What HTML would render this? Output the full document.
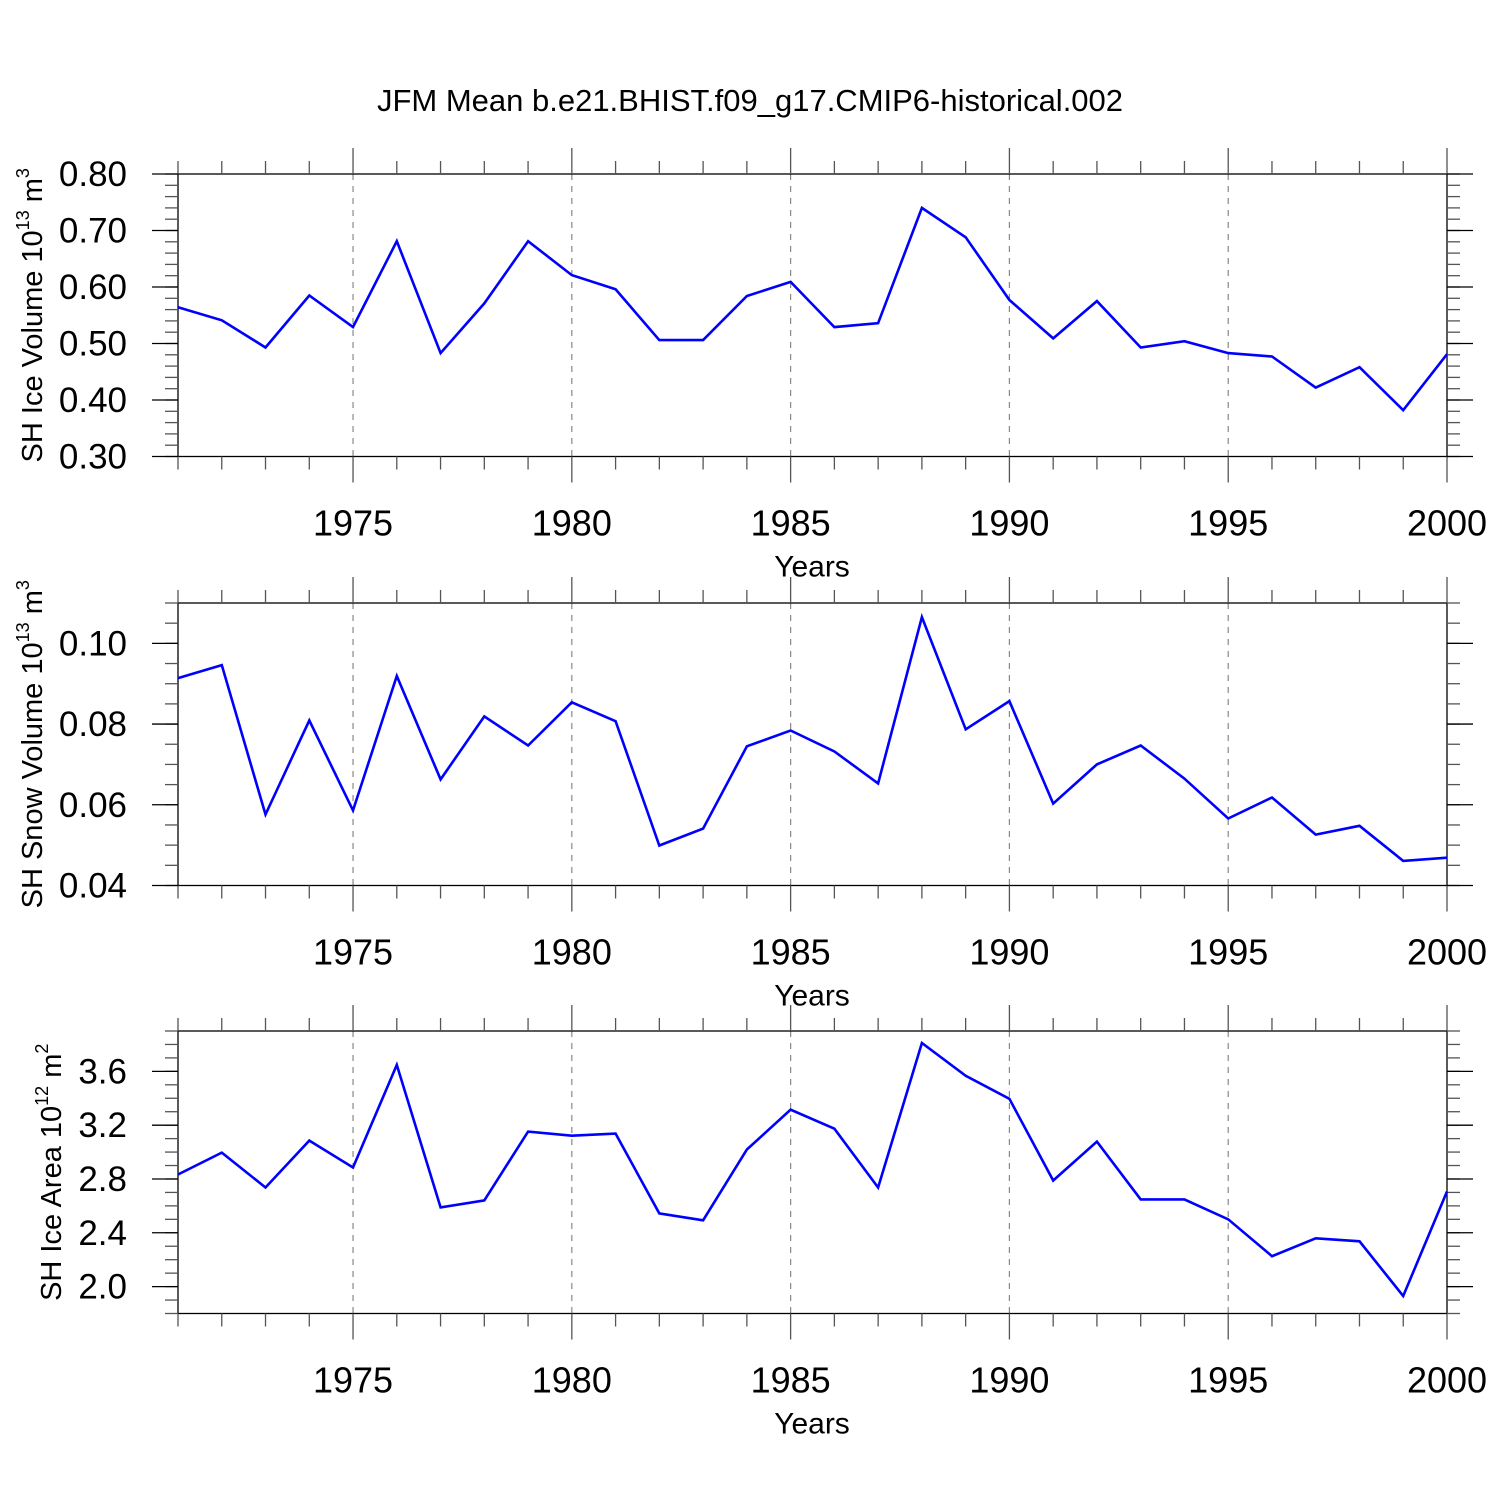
<!DOCTYPE html>
<html><head><meta charset="utf-8"><style>
html,body{margin:0;padding:0;background:#fff;}
svg{display:block;font-family:"Liberation Sans",sans-serif;}
</style></head><body>
<svg id="chart" width="1500" height="1500" viewBox="0 0 1500 1500" xmlns="http://www.w3.org/2000/svg">
<rect width="1500" height="1500" fill="#fff"/>
<text x="750" y="111" font-size="31" text-anchor="middle">JFM Mean b.e21.BHIST.f09_g17.CMIP6-historical.002</text>
</svg>
<script>
const years = [1971,1972,1973,1974,1975,1976,1977,1978,1979,1980,1981,1982,1983,1984,1985,1986,1987,1988,1989,1990,1991,1992,1993,1994,1995,1996,1997,1998,1999,2000];
const iceVolume = [0.564,0.541,0.493,0.585,0.529,0.681,0.483,0.571,0.681,0.621,0.596,0.506,0.506,0.584,0.609,0.529,0.536,0.740,0.688,0.577,0.509,0.575,0.493,0.504,0.483,0.477,0.422,0.458,0.382,0.481];
const snowVolume = [0.0914,0.0946,0.0576,0.0809,0.0586,0.0919,0.0663,0.0819,0.0747,0.0854,0.0807,0.0499,0.0541,0.0745,0.0784,0.0732,0.0653,0.1065,0.0787,0.0857,0.0603,0.0700,0.0747,0.0665,0.0566,0.0618,0.0526,0.0548,0.0461,0.0469];
const iceArea = [2.833,2.996,2.737,3.085,2.885,3.648,2.589,2.641,3.152,3.122,3.137,2.544,2.493,3.019,3.315,3.174,2.737,3.811,3.567,3.396,2.789,3.078,2.648,2.648,2.500,2.226,2.359,2.337,1.930,2.707];
const xTickLabels = ['1975','1980','1985','1990','1995','2000'];
const iceVolTicks = ['0.80','0.70','0.60','0.50','0.40','0.30'];
const snowVolTicks = ['0.10','0.08','0.06','0.04'];
const iceAreaTicks = ['3.6','3.2','2.8','2.4','2.0'];

const NS='http://www.w3.org/2000/svg';
const svg=document.getElementById('chart');
function mk(tag,attrs,parent){const e=document.createElementNS(NS,tag);for(const k in attrs)e.setAttribute(k,attrs[k]);(parent||svg).appendChild(e);return e;}
const X0=178,X1=1447,xMin=1971,xMax=2000;
const xs=v=>X0+(v-xMin)/(xMax-xMin)*(X1-X0);

function panel(cfg){
  const g=mk('g',{});
  
  
  const T=cfg.top,B=cfg.top+282.5;
  const ys=v=>T+(cfg.yMax-v)/(cfg.yMax-cfg.yMin)*(B-T);
  for(const lbl of xTickLabels){const yr=+lbl;if(yr>=xMax)continue;
    const l=mk('line',{x1:xs(yr),x2:xs(yr),y1:T,y2:B,stroke:'#888','stroke-width':1.2,'stroke-dasharray':'6,6'},g);
    }
  const fr=mk('rect',{x:X0,y:T,width:X1-X0,height:B-T,fill:'none',stroke:'#000','stroke-width':1.3},g);
  
  for(const yr of years){const major=yr%5===0;const x=xs(yr);const L=major?26:13;
    mk('line',{x1:x,x2:x,y1:T,y2:T-L,stroke:'#555','stroke-width':1.3},g);
    mk('line',{x1:x,x2:x,y1:B,y2:B+L,stroke:'#555','stroke-width':1.3},g);}
  for(const lbl of xTickLabels){const t=mk('text',{x:xs(+lbl),y:B+79,'font-size':36,'text-anchor':'middle'},g);t.textContent=lbl;
    }
  const xt=mk('text',{x:812,y:B+120,'font-size':30,'text-anchor':'middle'},g);xt.textContent='Years';
  
  const nMin=Math.round((cfg.yMax-cfg.yMin)/cfg.minor);
  for(let i=0;i<=nMin;i++){const y=ys(cfg.yMin+i*cfg.minor);
    mk('line',{x1:X0,x2:X0-13,y1:y,y2:y,stroke:'#555','stroke-width':1.3},g);
    mk('line',{x1:X1,x2:X1+13,y1:y,y2:y,stroke:'#555','stroke-width':1.3},g);}
  for(const lbl of cfg.ticks){const y=ys(+lbl);
    mk('line',{x1:X0,x2:X0-26,y1:y,y2:y,stroke:'#000','stroke-width':1.3},g);
    mk('line',{x1:X1,x2:X1+26,y1:y,y2:y,stroke:'#000','stroke-width':1.3},g);
    const t=mk('text',{x:127,y:y+12,'font-size':35,'text-anchor':'end'},g);t.textContent=lbl;
    }
  const yt=mk('text',{x:0,y:0,'font-size':29,'text-anchor':'middle',transform:`translate(${cfg.titleX},${(T+B)/2}) rotate(-90)`},g);
  
  yt.appendChild(document.createTextNode(cfg.title+' 10'));
  const s1=mk('tspan',{'font-size':18,dy:-13},yt);s1.textContent=cfg.exp;
  const s2=mk('tspan',{dy:13},yt);s2.textContent=' m';
  const s3=mk('tspan',{'font-size':18,dy:-13},yt);s3.textContent=cfg.unitExp;
  const pts=years.map((yr,i)=>xs(yr).toFixed(1)+','+ys(cfg.data[i]).toFixed(1)).join(' ');
  const pl=mk('polyline',{points:pts,fill:'none',stroke:'#0000ff','stroke-width':2.6,'stroke-linejoin':'miter'},g);
  
}
panel({name:'ice-volume-panel',top:174,yMin:0.30,yMax:0.80,minor:0.02,ticks:iceVolTicks,data:iceVolume,title:'SH Ice Volume',exp:'13',unitExp:'3',titleX:42});
panel({name:'snow-volume-panel',top:603,yMin:0.04,yMax:0.11,minor:0.005,ticks:snowVolTicks,data:snowVolume,title:'SH Snow Volume',exp:'13',unitExp:'3',titleX:42});
panel({name:'ice-area-panel',top:1031,yMin:1.8,yMax:3.9,minor:0.1,ticks:iceAreaTicks,data:iceArea,title:'SH Ice Area',exp:'12',unitExp:'2',titleX:61});
</script>
</body></html>
